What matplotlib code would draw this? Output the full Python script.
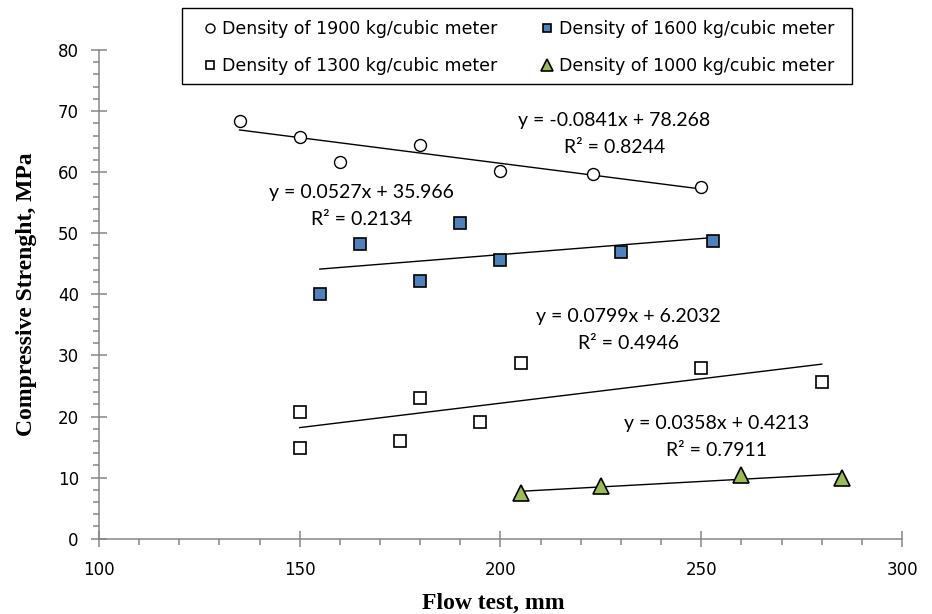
import numpy as np
import matplotlib
matplotlib.use("Agg")
import matplotlib.pyplot as plt
from matplotlib.ticker import MultipleLocator
from matplotlib.patches import Rectangle

# ---- data ----
x_1900 = [135, 150, 160, 180, 200, 223, 250]
y_1900 = [68.4, 65.8, 61.7, 64.5, 60.2, 59.7, 57.6]

x_1600 = [155, 165, 180, 190, 200, 230, 253]
y_1600 = [40.0, 48.2, 42.2, 51.7, 45.7, 46.9, 48.7]

x_1300 = [150, 150, 175, 180, 195, 205, 250, 280]
y_1300 = [20.8, 14.9, 16.0, 23.0, 19.1, 28.7, 28.0, 25.7]

x_1000 = [205, 225, 260, 285]
y_1000 = [7.5, 8.6, 10.5, 10.0]

labels = ["Density of 1900 kg/cubic meter", "Density of 1600 kg/cubic meter",
          "Density of 1300 kg/cubic meter", "Density of 1000 kg/cubic meter"]
slopes = [-0.0841, 0.0527, 0.0799, 0.0358]
intercepts = [78.268, 35.966, 6.2032, 0.4213]
eq_texts = ["y = -0.0841x + 78.268", "y = 0.0527x + 35.966",
            "y = 0.0799x + 6.2032", "y = 0.0358x + 0.4213"]
r2_texts = ["R² = 0.8244", "R² = 0.2134", "R² = 0.4946", "R² = 0.7911"]

W, H = 932, 614
fig = plt.figure(figsize=(W / 100, H / 100), dpi=100)
ax = fig.add_axes([99 / W, 1 - 538.7 / H, 803 / W, 488.7 / H])

axis_col = "#868686"

series = [(x_1900, y_1900), (x_1600, y_1600), (x_1300, y_1300), (x_1000, y_1000)]
styles = [
    dict(marker="o", ms=8.6, mfc="white", mec="black", mew=1.0),
    dict(marker="s", ms=8.0, mfc="#4F81BD", mec="black", mew=1.2),
    dict(marker="s", ms=8.0, mfc="white", mec="black", mew=1.2),
    dict(marker="^", ms=11.5, mfc="#9BBB59", mec="black", mew=1.2),
]

handles = []
for (xs, ys), st, lab, m, b in zip(series, styles, labels, slopes, intercepts):
    xs = np.asarray(xs, float)
    xr = np.array([xs.min(), xs.max()])
    ax.plot(xr, m * xr + b, color="black", lw=1.0, zorder=2)
    h, = ax.plot(xs, ys, linestyle="none", zorder=3, label=lab, **st)
    handles.append(h)

# equation annotations (data coordinates)
eq_pos = [(228.3, 68.4, 64.0), (165.3, 56.6, 52.3), (231.9, 36.3, 32.0), (253.9, 18.8, 14.4)]
for (ex, ey1, ey2), t1, t2 in zip(eq_pos, eq_texts, r2_texts):
    ax.text(ex, ey1, t1, ha="center", va="center", fontsize=14, family="Lato")
    ax.text(ex, ey2, t2, ha="center", va="center", fontsize=14, family="Lato")

ax.set_xlim(100, 300)
ax.set_ylim(0, 80)
ax.xaxis.set_major_locator(MultipleLocator(50))
ax.xaxis.set_minor_locator(MultipleLocator(10))
ax.yaxis.set_major_locator(MultipleLocator(10))
ax.yaxis.set_minor_locator(MultipleLocator(2))

for s in ["top", "right"]:
    ax.spines[s].set_visible(False)
for s in ["left", "bottom"]:
    ax.spines[s].set_color(axis_col)
    ax.spines[s].set_linewidth(1.1)

ax.tick_params(which="major", direction="inout", length=11, width=1.1, color=axis_col,
               labelsize=12, labelcolor="black")
ax.tick_params(axis="x", which="major", pad=10.5)
ax.tick_params(axis="y", which="major", pad=9)
ax.tick_params(which="minor", direction="out", length=4, width=1.1, color=axis_col)
for lab in ax.get_xticklabels() + ax.get_yticklabels():
    lab.set_family("DejaVu Sans")

ax.set_xlabel("Flow test, mm", family="Liberation Serif", fontweight="bold", fontsize=17)
ax.set_ylabel("Compressive Strenght, MPa", family="Liberation Serif", fontweight="bold", fontsize=17)
ax.xaxis.set_label_coords((493 - 99) / 803, -(603 - 538.7) / 488.7)
ax.xaxis.label.set_va("center")
ax.yaxis.set_label_coords((27 - 99) / 803, 0.5)
ax.yaxis.label.set_va("center")

# legend box
fig.patches.append(Rectangle((182 / W, 1 - 84 / H), 670 / W, 76 / H,
                             transform=fig.transFigure, fill=False,
                             edgecolor="black", linewidth=1.0))
order = [0, 2, 1, 3]
leg = fig.legend([handles[i] for i in order], [labels[i] for i in order], ncol=2,
                 loc="upper left", bbox_to_anchor=(204 / W, 1 - 20.5 / H),
                 prop={"family": "DejaVu Sans", "size": 12.5}, frameon=False,
                 markerscale=0.75, handlelength=0.7, handletextpad=0.34,
                 borderpad=0, labelspacing=1.05, columnspacing=2.5,
                 borderaxespad=0)

fig.savefig("out.png", dpi=100)
